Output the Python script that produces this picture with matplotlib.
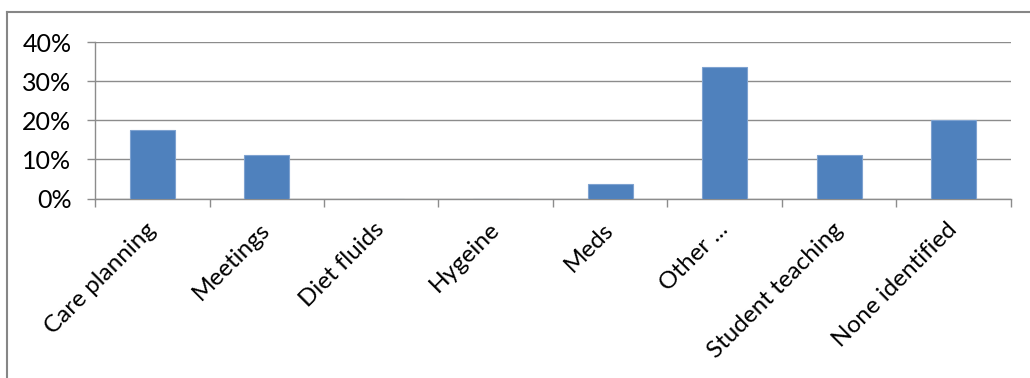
import matplotlib
matplotlib.use("Agg")
import matplotlib.pyplot as plt
from matplotlib.ticker import PercentFormatter
from matplotlib.lines import Line2D

categories = ["Care planning", "Meetings", "Diet fluids", "Hygeine", "Meds",
              "Other ...", "Student teaching", "None identified"]
values = [17.5, 11.25, 0, 0, 3.75, 33.75, 11.25, 20.0]
yticks = [0, 10, 20, 30, 40]

plt.rcParams['font.family'] = ['Lato', 'DejaVu Sans']

fig = plt.figure(figsize=(10.3, 3.78), dpi=100)
ax = fig.add_axes([95/1030, 1-198.5/378, (1011-95)/1030, (198.5-42.3)/378])

x = list(range(len(categories)))
ax.bar(x, values, width=0.39, color="#4F81BD", edgecolor="#7EA2D0", linewidth=0.8, zorder=3)

ax.set_xlim(-0.5, len(categories) - 0.5)
ax.set_ylim(0, 40)
ax.set_yticks(yticks)
ax.yaxis.set_major_formatter(PercentFormatter(decimals=0))
ax.grid(axis='y', color="#8C8C8C", linewidth=1.0, zorder=0)

for s in ['top', 'right']:
    ax.spines[s].set_visible(False)
for s in ['left', 'bottom']:
    ax.spines[s].set_color("#8C8C8C")
    ax.spines[s].set_linewidth(1.0)

ax.set_xticks(x)
ax.set_xticklabels(categories, rotation=45, ha='right', va='center', rotation_mode='anchor')
ax.tick_params(axis='x', which='major', length=0, pad=20, labelsize=17.5, colors="#000000")
ax.set_xticks([i - 0.5 for i in range(len(categories) + 1)], minor=True)
ax.tick_params(axis='x', which='minor', length=6, width=1.0, color="#8C8C8C", direction='out')
ax.tick_params(axis='y', length=6, width=1.0, color="#8C8C8C", pad=11, labelsize=18, labelcolor="#000000")

# outer chart frame (top and left edges visible)
fig.add_artist(Line2D([7/1030, 1.0], [1-12/378, 1-12/378], transform=fig.transFigure,
                      color="#868686", linewidth=1.5))
fig.add_artist(Line2D([7/1030, 7/1030], [0, 1-12/378], transform=fig.transFigure,
                      color="#868686", linewidth=1.5))

fig.savefig("out.png", dpi=100, facecolor="white")
